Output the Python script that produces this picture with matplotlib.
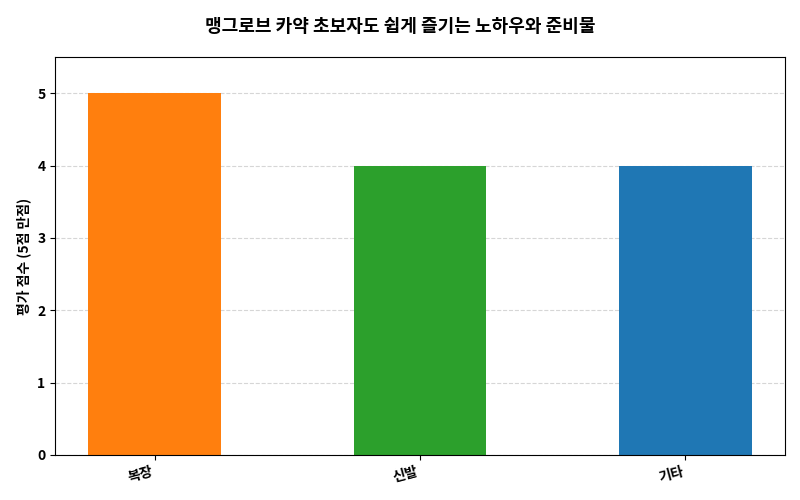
import matplotlib
matplotlib.use("Agg")
import matplotlib.pyplot as plt

plt.rcParams['font.family'] = ['Noto Sans CJK KR', 'DejaVu Sans']

categories = ["복장", "신발", "기타"]
values = [5, 4, 4]
colors = ["#ff7f0e", "#2ca02c", "#1f77b4"]

fig = plt.figure(figsize=(8, 5), dpi=100)
ax = fig.add_axes([0.069, 0.09, 0.912, 0.796])
ax.bar(range(len(categories)), values, width=0.5, color=colors, zorder=2)
ax.set_xlim(-0.375, 2.375)
ax.set_ylim(0, 5.5)
ax.set_xticks(range(len(categories)))
ax.set_xticklabels(categories, rotation=15, ha='right', fontweight='bold')
ax.set_yticks([0, 1, 2, 3, 4, 5])
for t in ax.get_yticklabels():
    t.set_fontweight('bold')
ax.yaxis.grid(True, linestyle='--', color='#cccccc', alpha=0.8, zorder=0)
ax.set_axisbelow(True)
ax.set_ylabel("평가 점수 (5점 만점)", fontweight='bold', fontsize=10)
fig.suptitle("맹그로브 카약 초보자도 쉽게 즐기는 노하우와 준비물", fontweight='bold', fontsize=13, y=0.965)
fig.savefig("out.png")
